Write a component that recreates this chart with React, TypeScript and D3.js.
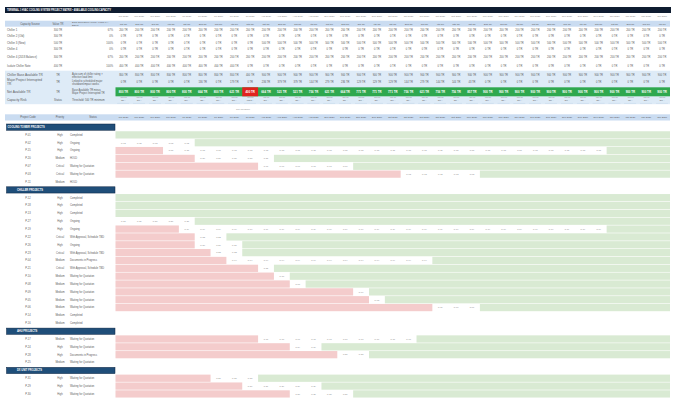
import * as d3 from "d3";

// week columns
const monthNames = ["Jun 2026", "Jul 2026", "Aug 2026", "Sep 2026", "Oct 2026", "Nov 2026", "Dec 2026", "Jan 2027"];
const weeksPerMonth = [4, 5, 4, 4, 5, 4, 5, 4];
const weekNames = ["1st wk", "2nd wk", "3rd wk", "4th wk", "5th wk"];

// capacity sources
const capacityLabels = ["Chiller 1", "Chiller 2 (Old)", "Chiller 3 (New)", "Chiller 4", "Chiller 4 (2018 Balance)", "Isolate Chiller Note"];
const capacityRatings = ["300 TR", "300 TR", "500 TR", "300 TR", "300 TR", "400 TR"];
const capacityShares = ["67%", "0%", "100%", "0%", "67%", "100%"];

const chiller1TR = [200, 200, 200, 200, 200, 200, 200, 200, 200, 200, 200, 200, 200, 200, 200, 200, 200, 200, 200, 200, 200, 200, 200, 200, 200, 200, 200, 200, 200, 200, 200, 200, 200, 200, 200];
const chiller2TR = [0, 0, 0, 0, 0, 0, 0, 0, 0, 0, 0, 0, 0, 0, 0, 0, 0, 0, 0, 0, 0, 0, 0, 0, 0, 0, 0, 0, 0, 0, 0, 0, 0, 0, 0];
const chiller3TR = [0, 0, 0, 0, 0, 0, 0, 0, 0, 500, 500, 500, 500, 500, 500, 500, 500, 500, 500, 500, 500, 500, 500, 500, 500, 500, 500, 500, 500, 500, 500, 500, 500, 500, 500];
const chiller4TR = [0, 0, 0, 0, 0, 0, 0, 0, 0, 0, 0, 0, 0, 0, 0, 0, 0, 0, 0, 0, 0, 0, 0, 0, 0, 0, 0, 0, 0, 0, 0, 0, 0, 0, 0];
const chiller4bTR = [200, 200, 200, 200, 200, 200, 200, 200, 200, 200, 200, 200, 200, 200, 200, 200, 200, 200, 200, 200, 200, 200, 200, 200, 200, 200, 200, 200, 200, 200, 200, 200, 200, 200, 200];
const isolateTR = [400, 400, 400, 400, 400, 400, 400, 400, 0, 0, 0, 0, 0, 0, 0, 0, 0, 0, 0, 0, 0, 0, 0, 0, 0, 0, 0, 0, 0, 0, 0, 0, 0, 0, 0];

const baseTR = [800, 800, 800, 800, 800, 800, 800, 800, 400, 900, 900, 900, 900, 900, 900, 900, 900, 900, 900, 900, 900, 900, 900, 900, 900, 900, 900, 900, 900, 900, 900, 900, 900, 900, 900];
const interruptedTR = [0, 0, 0, 0, 0, 136, 0, 179, 0, 236, 379, 379, 144, 279, 236, 129, 129, 129, 144, 279, 144, 144, 43, 0, 0, 0, 0, 0, 0, 0, 0, 0, 0, 0, 0];
const netTR = [800, 800, 800, 800, 800, 664, 800, 621, 400, 664, 521, 521, 756, 621, 664, 771, 771, 771, 756, 621, 756, 756, 857, 900, 900, 900, 900, 900, 900, 900, 900, 900, 900, 900, 900];
const thresholdTR = 500;

const infoLabels = ["Chiller Base Available TR", "Major Project Interrupted TR", "Net Available TR", "Capacity Risk"];
const infoUnits = ["TR", "TR", "TR", "Status"];
const infoNotes = [
  ["Auto sum of chiller rating ×", "effective load limit"],
  ["Linked to scheduled major", "shutdown/impact works"],
  ["Base Available TR minus", "Major Project Interrupted TR"],
  ["Threshold: 500 TR minimum", ""],
];

// projects
const sectionNames = ["COOLING TOWER PROJECTS", "CHILLER PROJECTS", "AHU PROJECTS", "DX UNIT PROJECTS"];
const sectionSizes = [7, 17, 4, 3];

const projectCodes = [
  "P-01", "P-02", "P-15", "P-20", "P-07", "P-03", "P-11",
  "P-12", "P-18", "P-13", "P-27", "P-19", "P-22", "P-26", "P-23", "P-04", "P-21", "P-10", "P-08", "P-09", "P-05", "P-06", "P-14", "P-16",
  "P-17", "P-24", "P-28", "P-25",
  "P-31", "P-29", "P-30",
];
const projectPriority = [
  "High", "High", "High", "Medium", "Critical", "Critical", "Medium",
  "High", "High", "High", "High", "High", "Critical", "High", "Critical", "Medium", "Critical", "Medium", "Medium", "Medium", "Medium", "Medium", "Medium", "Medium",
  "Medium", "High", "High", "Medium",
  "High", "High", "High",
];
const projectStatus = [
  "Completed", "Ongoing", "Ongoing", "HOLD", "Waiting for Quotation", "Waiting for Quotation", "HOLD",
  "Completed", "Completed", "Completed", "Ongoing", "Ongoing", "With Approval, Schedule TBD", "Ongoing", "With Approval, Schedule TBD",
  "Documents in Progress", "With Approval, Schedule TBD", "Waiting for Quotation", "Waiting for Quotation", "Waiting for Quotation",
  "Waiting for Quotation", "Waiting for Quotation", "Completed", "Completed",
  "Waiting for Quotation", "Waiting for Quotation", "Documents in Progress", "Waiting for Quotation",
  "Waiting for Quotation", "Waiting for Quotation", "Waiting for Quotation",
];
// first and last active week (null = not scheduled)
const activeStart: (number | null)[] = [
  0, 0, 3, 5, 9, 18, null,
  0, 0, 0, 0, 4, 5, 5, 6, 7, 9, 10, 11, 15, 16, 20, null, null,
  9, 11, 14, null,
  6, 8, 11,
];
const activeEnd: (number | null)[] = [
  -1, 4, 30, 9, 14, 22, null,
  -1, -1, -1, 4, 30, 6, 7, 7, 19, 9, 10, 11, 15, 16, 22, null, null,
  18, 12, 15, null,
  8, 12, 14,
];

const FONT = "'Liberation Sans', Arial, sans-serif";
const C = {
  title: "#0f1c30",
  head: "#cadcf1",
  info: "#deebf7",
  green: "#2fa84f",
  red: "#e0231f",
  ganttRed: "#f4cccc",
  ganttGreen: "#d9ead3",
  section: "#1f4e79",
  text: "#5a5a5a",
  faint: "#8a8a8a",
};

export default function App() {
  const columns = monthNames.flatMap((m, i) => weekNames.slice(0, weeksPerMonth[i]).map((w) => ({ month: m, week: w })));
  const x = d3.scaleBand<number>().domain(d3.range(columns.length)).range([115.5, 670]);
  const bw = x.bandwidth();
  const cx = (i: number) => (x(i) ?? 0) + bw / 2;
  const right = x.range()[1];

  const capacityValues = [chiller1TR, chiller2TR, chiller3TR, chiller4TR, chiller4bTR, isolateTR];
  const capRowY = [29.5, 36, 42.7, 49.3, 57.3, 66];
  const infoRowY = [75, 81.7, 91.5, 99.5];

  // gantt rows
  type Row = { kind: "section"; name: string } | { kind: "project"; idx: number };
  const rows: Row[] = [];
  let p = 0;
  sectionNames.forEach((name, s) => {
    rows.push({ kind: "section", name });
    for (let k = 0; k < sectionSizes[s]; k++) rows.push({ kind: "project", idx: p++ });
  });
  const step = 7.85;
  const y = d3.scaleBand<number>().domain(d3.range(rows.length)).range([123.1, 123.1 + rows.length * step]);
  const rh = y.bandwidth();

  const fmt = (v: number) => `${v} TR`;

  return (
    <svg width={680} height={413} style={{ position: "absolute", left: 0, top: 0, background: "#fff" }} fontFamily={FONT}>
      {/* title */}
      <rect x={5} y={7} width={666} height={6} fill={C.title} />
      <text x={7} y={11.2} fontSize={3} fontWeight="bold" fill="#fff" textLength={104} lengthAdjust="spacingAndGlyphs">
        TERMINAL 1 HVAC COOLING SYSTEM PROJECT MATRIX • AVAILABLE COOLING CAPACITY
      </text>

      {/* month row */}
      {columns.map((c, i) => (
        <text key={`m${i}`} x={cx(i)} y={17.3} fontSize={2.4} fill={C.faint} textAnchor="middle">{c.month}</text>
      ))}

      {/* week header */}
      <rect x={5} y={20.7} width={right - 5} height={6} fill={C.head} />
      <text x={30} y={24.6} fontSize={2.7} fill={C.text} textAnchor="middle">Capacity Source</text>
      <text x={58} y={24.6} fontSize={2.7} fill={C.text} textAnchor="middle">Value TR</text>
      <text x={72} y={23.4} fontSize={2.5} fill={C.text}>ECS Operation Hours / Load % /</text>
      <text x={72} y={26.2} fontSize={2.5} fill={C.text}>Effect</text>
      {columns.map((c, i) => (
        <text key={`w${i}`} x={cx(i)} y={24.8} fontSize={2.5} fill={C.text} textAnchor="middle">{c.week}</text>
      ))}

      {/* capacity rows */}
      {capacityLabels.map((label, r) => (
        <g key={`cap${r}`}>
          <text x={7} y={capRowY[r] + 1} fontSize={2.8} fill={C.text}>{label}</text>
          <text x={58} y={capRowY[r] + 1} fontSize={2.6} fill={C.text} textAnchor="middle">{capacityRatings[r]}</text>
          <text x={113} y={capRowY[r] + 1} fontSize={2.6} fill={C.text} textAnchor="end">{capacityShares[r]}</text>
          {capacityValues[r].map((v, i) => (
            <text key={i} x={cx(i)} y={capRowY[r] + 1} fontSize={2.6} fill={C.text} textAnchor="middle">{fmt(v)}</text>
          ))}
        </g>
      ))}

      {/* info block */}
      <rect x={5} y={70.7} width={right - 5} height={33.5} fill={C.info} />
      <rect x={x(0)} y={87.3} width={right - (x(0) ?? 0)} height={9} fill={C.green} />
      <rect x={x(8)} y={87.3} width={bw} height={9} fill={C.red} />
      {infoLabels.map((label, r) => (
        <g key={`info${r}`}>
          {r === 1 ? (
            <>
              <text x={7} y={infoRowY[r] - 0.3} fontSize={3.2} fill={C.text}>Major Project Interrupted</text>
              <text x={7} y={infoRowY[r] + 3.3} fontSize={3.2} fill={C.text}>TR</text>
            </>
          ) : (
            <text x={7} y={infoRowY[r] + 1.1} fontSize={3.2} fill={C.text}>{label}</text>
          )}
          <text x={58} y={infoRowY[r] + 1.1} fontSize={2.8} fill={C.text} textAnchor="middle">{infoUnits[r]}</text>
          <text x={72} y={infoRowY[r] + (infoNotes[r][1] ? -0.2 : 1.1)} fontSize={2.6} fill={C.text}>{infoNotes[r][0]}</text>
          {infoNotes[r][1] && (
            <text x={72} y={infoRowY[r] + 2.8} fontSize={2.6} fill={C.text}>{infoNotes[r][1]}</text>
          )}
        </g>
      ))}
      {columns.map((_, i) => (
        <g key={`iv${i}`}>
          <text x={cx(i)} y={infoRowY[0] + 1} fontSize={2.6} fill={C.text} textAnchor="middle">{fmt(baseTR[i])}</text>
          <text x={cx(i)} y={infoRowY[1] + 1} fontSize={2.6} fill={C.text} textAnchor="middle">{fmt(interruptedTR[i])}</text>
          <text x={cx(i)} y={infoRowY[2] + 1.1} fontSize={2.9} fontWeight="bold" fill="#fff" textAnchor="middle">{fmt(netTR[i])}</text>
          <text x={cx(i)} y={97.6} fontSize={1.7} fill={C.faint} textAnchor="middle">{`≥${thresholdTR} TR`}</text>
          <text x={cx(i)} y={100.6} fontSize={2.4} fill={C.text} textAnchor="middle">{netTR[i] >= thresholdTR ? "OK -" : "LOW -"}</text>
          <line x1={(x(i) ?? 0) + 2} x2={(x(i) ?? 0) + bw - 2} y1={103.4} y2={103.4} stroke="#a7bfdb" strokeWidth={0.4} strokeDasharray="0.6 0.4" />
        </g>
      ))}
      <text x={243} y={110} fontSize={2.3} fill={C.faint} textAnchor="middle">100 TR spare</text>

      {/* project header */}
      <rect x={5} y={114.3} width={right - 5} height={6.2} fill={C.head} />
      <text x={28} y={118.4} fontSize={2.7} fill={C.text} textAnchor="middle">Project Code</text>
      <text x={60} y={118.4} fontSize={2.7} fill={C.text} textAnchor="middle">Priority</text>
      <text x={93} y={118.4} fontSize={2.7} fill={C.text} textAnchor="middle">Status</text>
      {columns.map((c, i) => (
        <text key={`h${i}`} x={cx(i)} y={118.4} fontSize={2.4} fill={C.text} textAnchor="middle">{c.month}</text>
      ))}

      {/* gantt */}
      {rows.map((row, r) => {
        const top = y(r) ?? 0;
        const mid = top + rh / 2;
        if (row.kind === "section") {
          return (
            <g key={`r${r}`}>
              <rect x={6.5} y={top + 0.9} width={108.5} height={rh - 1.6} fill={C.section} stroke="#0b2340" strokeWidth={0.5} />
              <text x={r === 0 ? 7.5 : 17} y={mid + 0.9} fontSize={2.6} fontWeight="bold" fill="#fff">{row.name}</text>
            </g>
          );
        }
        const k = row.idx;
        const s = activeStart[k];
        const e = activeEnd[k];
        return (
          <g key={`r${r}`}>
            <text x={28} y={mid + 0.9} fontSize={2.6} fill={C.text} textAnchor="middle">{projectCodes[k]}</text>
            <text x={60} y={mid + 0.9} fontSize={2.6} fill={C.text} textAnchor="middle">{projectPriority[k]}</text>
            <text x={70} y={mid + 0.9} fontSize={2.6} fill={C.text}>{projectStatus[k]}</text>
            {s !== null && e !== null && (
              <>
                {s > 0 && (
                  <rect x={x(0)} y={top + 0.3} width={(x(s) ?? 0) - (x(0) ?? 0)} height={rh - 0.6} fill={C.ganttRed} />
                )}
                {e + 1 < columns.length && (
                  <rect x={x(e + 1)} y={top + 0.3} width={right - (x(e + 1) ?? 0)} height={rh - 0.6} fill={C.ganttGreen} />
                )}
                {d3.range(s, e + 1).map((c) => (
                  <text key={c} x={cx(c)} y={mid + 0.8} fontSize={2.2} fill={C.faint} textAnchor="middle">{projectCodes[k]}</text>
                ))}
              </>
            )}
          </g>
        );
      })}
    </svg>
  );
}
